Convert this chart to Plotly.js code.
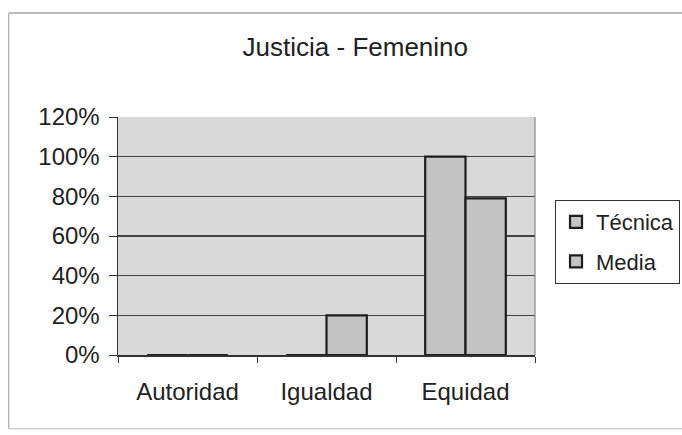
<!DOCTYPE html>
<html>
<head>
<meta charset="utf-8">
<script src="https://cdn.plot.ly/plotly-3.0.1.min.js"></script>
<style>html,body{margin:0;padding:0;background:#fff;}#chart{width:682px;height:435px;}</style>
</head>
<body>
<div id="chart"></div>
<script>
const categories = ["Autoridad", "Igualdad", "Equidad"];
const seriesNames = ["Técnica", "Media"];
const tecnica = [0, 0, 1.0];
const media = [0, 0.2, 0.79];
const yTickVals = [0, 0.2, 0.4, 0.6, 0.8, 1.0, 1.2];
const yTickText = ["0%", "20%", "40%", "60%", "80%", "100%", "120%"];

const barStyle = {color: "#c4c4c4", line: {color: "#1e1e1e", width: 2.2}};
const traces = [
  {type: "bar", name: seriesNames[0], x: categories, y: tecnica, marker: barStyle, legendgroup: "a"},
  {type: "bar", name: seriesNames[1], x: categories, y: media, marker: barStyle, legendgroup: "b"}
];

const font = "Liberation Sans, Arial, sans-serif";
const layout = {
  width: 682, height: 435,
  margin: {l: 118, r: 147, t: 117, b: 80, autoexpand: false},
  paper_bgcolor: "#ffffff",
  plot_bgcolor: "#d9d9d9",
  font: {family: font, color: "#222", size: 24},
  title: {text: "Justicia - Femenino", font: {family: font, size: 26, color: "#222"}, x: 0.521, xanchor: "center", y: 0.892, yanchor: "middle"},
  barmode: "group",
  bargap: 0.42,
  bargroupgap: 0,
  showlegend: true,
  legend: {
    x: 1.048, xanchor: "left", y: 0.651, yanchor: "top",
    bordercolor: "#333", borderwidth: 1, bgcolor: "rgba(0,0,0,0)",
    font: {family: font, size: 22, color: "#222"},
    traceorder: "grouped", tracegroupgap: 8
  },
  xaxis: {
    type: "category",
    showline: true, linecolor: "#333", linewidth: 1.5,
    ticks: "outside", tickson: "boundaries", ticklen: 6, tickcolor: "#333",
    showgrid: false,
    tickfont: {family: font, size: 24, color: "#222"},
    ticklabelstandoff: 15
  },
  yaxis: {
    range: [0, 1.2],
    tickvals: yTickVals, ticktext: yTickText,
    showline: true, linecolor: "#333", linewidth: 1.5,
    ticks: "outside", ticklen: 8, tickcolor: "#333",
    showgrid: true, gridcolor: "#444", gridwidth: 1.3,
    zeroline: false,
    tickfont: {family: font, size: 24, color: "#222"},
    ticklabelstandoff: 4
  },
  shapes: [
    {type: "line", xref: "paper", yref: "paper", x0: 1, x1: 1, y0: 0, y1: 1, line: {color: "#777", width: 1}},
    {type: "line", xref: "paper", yref: "paper", x0: -0.262, x1: 1.5, y0: 1.437, y1: 1.437, line: {color: "#777", width: 1}},
    {type: "line", xref: "paper", yref: "paper", x0: -0.262, x1: -0.262, y0: 1.437, y1: -0.31, line: {color: "#999", width: 1}},
    {type: "line", xref: "paper", yref: "paper", x0: -0.262, x1: 1.5, y0: -0.31, y1: -0.31, line: {color: "#bbb", width: 1}}
  ]
};

Plotly.newPlot("chart", traces, layout, {displayModeBar: false, staticPlot: true});
</script>
</body>
</html>
